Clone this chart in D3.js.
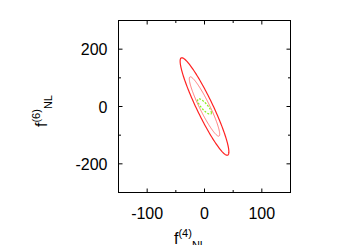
<!DOCTYPE html>
<html>
<head>
<meta charset="utf-8">
<script src="https://cdn.jsdelivr.net/npm/d3@7"></script>
<style>
  body { margin: 0; background: #fff; }
  text { font-family: "Liberation Sans", Arial, sans-serif; }
</style>
</head>
<body>
<script>
// contour parameters (sigma x, sigma y, correlation)
var contourNames = ['outer', 'inner', 'green'];
var sigmaX = [42.5, 26.5, 12];
var sigmaY = [170, 103.5, 27];
var rho = [-0.93, -0.93, -0.82];
var contourColor = ['#f22', '#f77', '#8e2'];
var contourWidth = [1.2, 1, 1.2];
var contourDash = [null, null, '2,1.5'];

var xTickLabels = [-100, 0, 100];
var xMinorTicks = [-50, 50];
var yTickLabels = [200, 0, -200];
var yMinorTicks = [100, -100];

var width = 350, height = 245;
var plotLeft = 118.5, plotRight = 290.5, plotTop = 20.5, plotBottom = 192.5;

var svg = d3.select('body').append('svg')
  .attr('width', width)
  .attr('height', height);

var x = d3.scaleLinear().domain([-150, 150]).range([plotLeft, plotRight]);
var y = d3.scaleLinear().domain([-300, 300]).range([plotBottom, plotTop]);

// ellipses
var angles = d3.range(0, 2 * Math.PI + 0.001, Math.PI / 90);
var line = d3.line().x(function(d) { return x(d[0]); }).y(function(d) { return y(d[1]); });

contourNames.forEach(function(name, i) {
  var pts = angles.map(function(t) {
    return [sigmaX[i] * Math.cos(t),
            sigmaY[i] * (rho[i] * Math.cos(t) + Math.sqrt(1 - rho[i] * rho[i]) * Math.sin(t))];
  });
  svg.append('path')
    .attr('d', line(pts))
    .attr('fill', 'none')
    .attr('stroke', contourColor[i])
    .attr('stroke-width', contourWidth[i])
    .attr('stroke-dasharray', contourDash[i]);
});

// frame
svg.append('rect')
  .attr('x', plotLeft).attr('y', plotTop)
  .attr('width', plotRight - plotLeft).attr('height', plotBottom - plotTop)
  .attr('fill', 'none').attr('stroke', '#000').attr('stroke-width', 1);

// ticks on all four sides, pointing inwards
function xticks(vals, len) {
  vals.forEach(function(v) {
    svg.append('line').attr('x1', x(v)).attr('x2', x(v)).attr('y1', plotBottom).attr('y2', plotBottom - len).attr('stroke', '#000');
    svg.append('line').attr('x1', x(v)).attr('x2', x(v)).attr('y1', plotTop).attr('y2', plotTop + len).attr('stroke', '#000');
  });
}
function yticks(vals, len) {
  vals.forEach(function(v) {
    svg.append('line').attr('y1', y(v)).attr('y2', y(v)).attr('x1', plotLeft).attr('x2', plotLeft + len).attr('stroke', '#000');
    svg.append('line').attr('y1', y(v)).attr('y2', y(v)).attr('x1', plotRight).attr('x2', plotRight - len).attr('stroke', '#000');
  });
}
xticks(xTickLabels, 4);
xticks(xMinorTicks, 2.5);
yticks(yTickLabels, 4);
yticks(yMinorTicks, 2.5);

// tick labels
svg.selectAll('.xl').data(xTickLabels).enter().append('text')
  .attr('x', function(d) { return x(d); })
  .attr('y', 218.5)
  .attr('text-anchor', 'middle')
  .attr('font-size', 16)
  .text(function(d) { return d; });

svg.selectAll('.yl').data(yTickLabels).enter().append('text')
  .attr('x', 107.5)
  .attr('y', function(d) { return y(d) + 6; })
  .attr('text-anchor', 'end')
  .attr('font-size', 16)
  .text(function(d) { return d; });

// axis titles
var xt = svg.append('text').attr('x', 174).attr('y', 244).attr('font-size', 16);
xt.append('tspan').text('f');
xt.append('tspan').attr('font-size', 11).attr('dy', -7).text('(4)');
xt.append('tspan').attr('font-size', 11).attr('dy', 12).text('NL');

var yt = svg.append('text').attr('transform', 'translate(47,127) rotate(-90)').attr('font-size', 16);
yt.append('tspan').text('f');
yt.append('tspan').attr('font-size', 11).attr('dy', -7).text('(6)');
yt.append('tspan').attr('font-size', 11).attr('dy', 12).text('NL');
</script>
</body>
</html>
